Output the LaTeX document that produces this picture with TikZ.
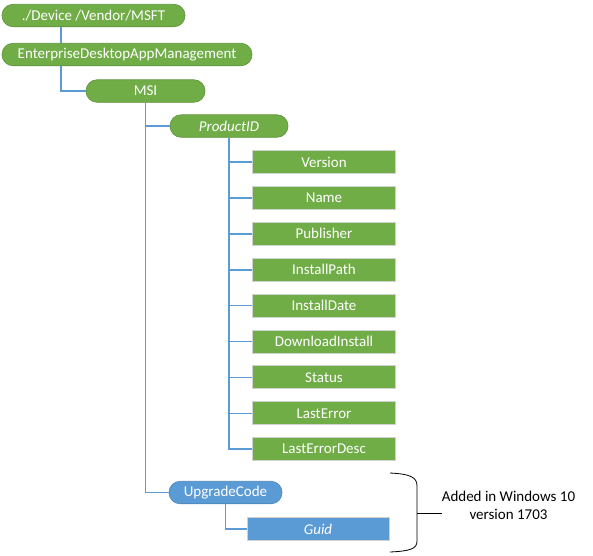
\documentclass[tikz,border=0pt]{standalone}
\usepackage{fontspec}
\setmainfont{Carlito}
\usetikzlibrary{positioning}
\definecolor{leafgreen}{HTML}{70AD47}
\definecolor{linkblue}{HTML}{5B9BD5}
\begin{document}
\begin{tikzpicture}[x=1pt,y=-1pt,
  font=\fontsize{15}{18}\selectfont,
  rnode/.style={fill=leafgreen,draw=leafgreen!85!black,line width=0.6pt,text=white,
    rounded corners=11pt,minimum height=22.5pt,inner sep=0pt},
  leaf/.style={fill=leafgreen,draw=black!18,line width=1pt,text=white,
    minimum width=143pt,minimum height=23pt,inner sep=0pt},
  newnode/.style={rnode,fill=linkblue,draw=linkblue!85!black},
  newleaf/.style={leaf,fill=linkblue,draw=black!18},
  conn/.style={draw=linkblue,line width=1.6pt}]
\useasboundingbox (0,0) rectangle (593,555);

\node[rnode,minimum width=183pt] (root) at (93.5,15.5) {./Device /Vendor/MSFT};
\node[rnode,minimum width=250pt] (edam) at (127,54.5) {EnterpriseDesktopAppManagement};
\node[rnode,minimum width=119pt] (msi) at (145.5,91) {MSI};
\node[rnode,minimum width=118pt] (prod) at (229,126) {\itshape ProductID};

\node[leaf] (ver) at (324,162) {Version};
\node[leaf,below=11.9pt of ver] (name) {Name};
\node[leaf,below=11.9pt of name] (pub) {Publisher};
\node[leaf,below=11.9pt of pub] (path) {InstallPath};
\node[leaf,below=11.9pt of path] (date) {InstallDate};
\node[leaf,below=11.9pt of date] (dl) {DownloadInstall};
\node[leaf,below=11.9pt of dl] (stat) {Status};
\node[leaf,below=11.9pt of stat] (err) {LastError};
\node[leaf,below=11.9pt of err] (desc) {LastErrorDesc};

\node[newnode,minimum width=113pt] (upg) at (225.5,492.5) {UpgradeCode};
\node[newleaf,minimum width=142pt] (guid) at (318,529) {\itshape Guid};

\node[align=center,inner sep=0pt] (note) at (508.5,505.5) {Added in Windows 10\\version 1703};

\draw[conn] ([xshift=-32.5pt]root.south) -- ([xshift=-32.5pt]root.south |- edam.north);
\draw[conn] ([xshift=-32.5pt]root.south |- edam.south) |- (msi.west);
\draw[conn] (msi.south) |- (prod.west);
\draw[conn] (msi.south) |- (upg.west);
\draw[conn] (prod.south) |- (ver.west);
\draw[conn] (prod.south) |- (name.west);
\draw[conn] (prod.south) |- (pub.west);
\draw[conn] (prod.south) |- (path.west);
\draw[conn] (prod.south) |- (date.west);
\draw[conn] (prod.south) |- (dl.west);
\draw[conn] (prod.south) |- (stat.west);
\draw[conn] (prod.south) |- (err.west);
\draw[conn] (prod.south) |- (desc.west);
\draw[conn] (upg.south) |- (guid.west);

% brace round the new nodes
\coordinate (tip) at (417,513);
\draw[line width=0.8pt] (390,473) .. controls (410,474) and (417,477) .. (417,486)
  -- (tip) -- (417,541) .. controls (417,549) and (410,551) .. (390,552);
\draw[line width=0.8pt] (tip) -- (tip -| note.west);
\end{tikzpicture}
\end{document}
